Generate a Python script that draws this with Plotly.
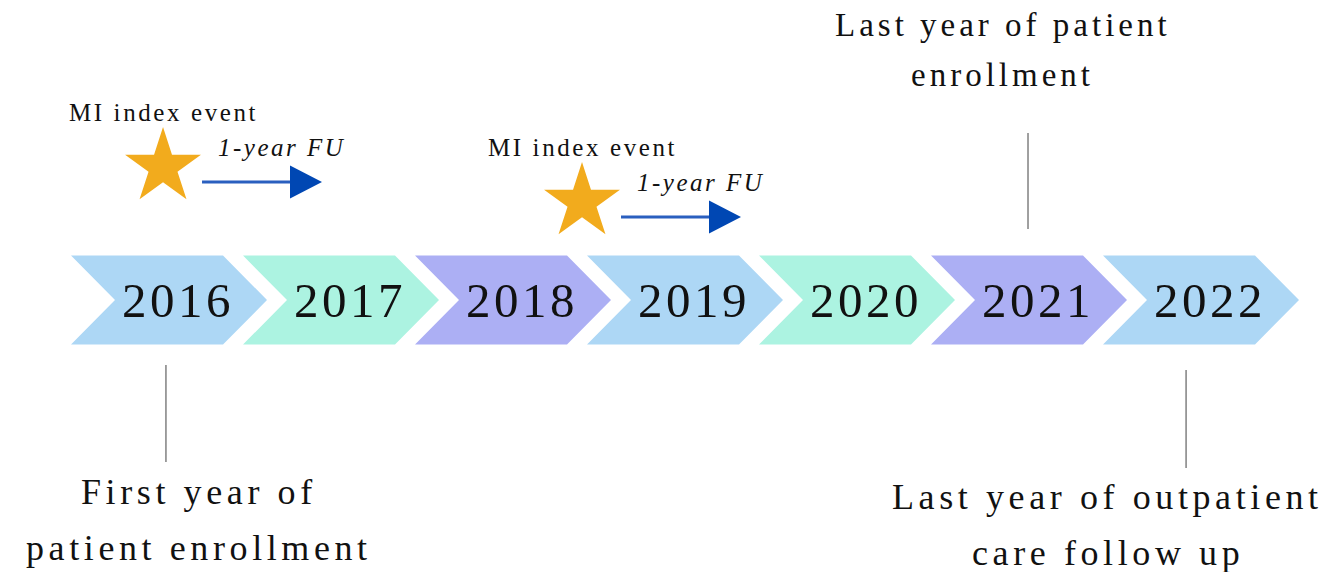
import plotly.graph_objects as go

# ---------------- data ----------------
years = [2016, 2017, 2018, 2019, 2020, 2021, 2022]
year_colors = ["#ADD7F5", "#ACF3E1", "#ACAFF4", "#ADD7F5", "#ACF3E1", "#ACAFF4", "#ADD7F5"]

event_years = [2016.535, 2018.971]          # MI index events
event_labels = ["MI index event", "MI index event"]
followup_labels = ["1-year FU", "1-year FU"]
event_levels = [133, 98]                     # vertical level of each star

milestone_years = [2016.552, 2021.564, 2022.483]
milestone_line_top = [-65, 167, -70]
milestone_line_bottom = [-162, 71, -168]
milestone_text_x = [2016.744, 2021.418, 2022.029]
milestone_text_lines = [["First year of", "patient enrollment"],
                        ["Last year of patient", "enrollment"],
                        ["Last year of outpatient", "care follow up"]]
milestone_text_y = [[-192, -248], [275, 225], [-197, -253]]
milestone_text_size = [36, 33, 36]

# ---------------- layout constants ----------------
PX = 172.0                         # pixels per year
X0 = 2016 - 71 / PX
W, H = 1337, 572
CHEV_W = 196 / PX
CHEV_D = 44 / PX
HALF_H = 44.5
SERIF = "Liberation Serif"

fig = go.Figure()

# chevrons
for y, c in zip(years, year_colors):
    xs = [y, y + CHEV_W - CHEV_D, y + CHEV_W, y + CHEV_W - CHEV_D, y, y + CHEV_D, y]
    ys = [HALF_H, HALF_H, 0, -HALF_H, -HALF_H, 0, HALF_H]
    fig.add_trace(go.Scatter(x=xs, y=ys, mode="lines", fill="toself", fillcolor=c,
                             line=dict(width=0, color=c), hoverinfo="skip", showlegend=False))
    fig.add_annotation(x=y + 107 / PX, y=0, text=f'<span style="letter-spacing:3.5px">{y}</span>',
                       showarrow=False, xanchor="center", yanchor="middle",
                       font=dict(family=SERIF, size=49, color="#111111"))

# events: stars, arrows, labels
for ex, lvl, lab, fu in zip(event_years, event_levels, event_labels, followup_labels):
    ay = lvl - 15
    fig.add_trace(go.Scatter(x=[ex + 39 / PX, ex + 128 / PX], y=[ay, ay], mode="lines",
                             line=dict(color="#2A5FBF", width=3), hoverinfo="skip", showlegend=False))
    fig.add_trace(go.Scatter(x=[ex + 127 / PX, ex + 159 / PX, ex + 127 / PX, ex + 127 / PX],
                             y=[ay + 16.5, ay, ay - 16.5, ay + 16.5], mode="lines", fill="toself",
                             fillcolor="#0047B3", line=dict(width=0, color="#0047B3"),
                             hoverinfo="skip", showlegend=False))
    fig.add_trace(go.Scatter(x=[ex], y=[lvl], mode="markers",
                             marker=dict(symbol="star", size=57, color="#F2AB1D", line=dict(width=0)),
                             hoverinfo="skip", showlegend=False))
    fig.add_annotation(x=ex, y=lvl + 55, text=f'<span style="letter-spacing:2.6px">{lab}</span>',
                       showarrow=False, xanchor="center", yanchor="middle",
                       font=dict(family=SERIF, size=25, color="#111111"))
    fig.add_annotation(x=ex + 118 / PX, y=lvl + 20, text=f'<i><span style="letter-spacing:2.5px">{fu}</span></i>',
                       showarrow=False, xanchor="center", yanchor="middle",
                       font=dict(family=SERIF, size=25, color="#111111"))

# milestones
for mx, t, b, tx, lines, tys, fs in zip(milestone_years, milestone_line_top, milestone_line_bottom,
                                         milestone_text_x, milestone_text_lines, milestone_text_y,
                                         milestone_text_size):
    fig.add_trace(go.Scatter(x=[mx, mx], y=[t, b], mode="lines",
                             line=dict(color="#808080", width=1.5), hoverinfo="skip", showlegend=False))
    for line_txt, ty in zip(lines, tys):
        ls = 4 if fs == 33 else 4.6
        fig.add_annotation(x=tx, y=ty, text=f'<span style="letter-spacing:{ls}px">{line_txt}</span>',
                           showarrow=False, xanchor="center", yanchor="middle",
                           font=dict(family=SERIF, size=fs, color="#111111"))

fig.update_layout(
    width=W, height=H,
    margin=dict(l=0, r=0, t=0, b=0),
    paper_bgcolor="white", plot_bgcolor="white",
    xaxis=dict(range=[X0, X0 + W / PX], visible=False, fixedrange=True),
    yaxis=dict(range=[-272, 300], visible=False, fixedrange=True),
    showlegend=False,
)

fig.write_html("out.html", config={"displayModeBar": False},
               post_script="document.body.style.margin='0';document.body.style.overflow='hidden';")
